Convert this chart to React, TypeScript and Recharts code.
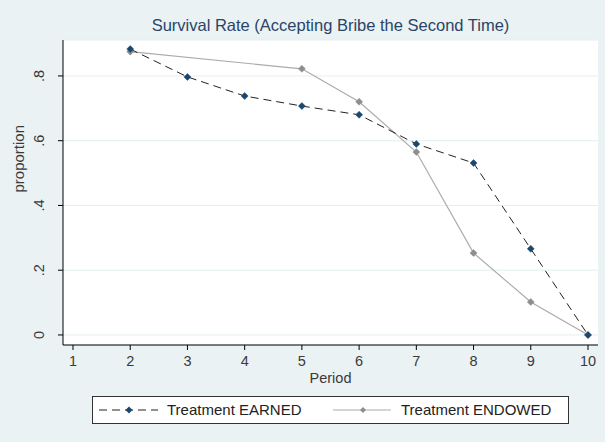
import React from 'react';
import { LineChart, Line, XAxis, YAxis, CartesianGrid } from 'recharts';

const periods = [1, 2, 3, 4, 5, 6, 7, 8, 9, 10];
const earned = [null, 0.883, 0.797, 0.738, 0.707, 0.68, 0.59, 0.531, 0.266, 0.0];
const endowed = [null, 0.875, null, null, 0.822, 0.72, 0.565, 0.253, 0.102, 0.0];
const yTicks = [0, 0.2, 0.4, 0.6, 0.8];

const data = periods.map((p, i) => ({ period: p, earned: earned[i], endowed: endowed[i] }));

const FONT = '"Liberation Sans", Arial, sans-serif';
const BG = '#eaf2f3';
const TXT = '#3a3a3a';

const fmtY = (v: number) => (v === 0 ? '0' : String(v).replace(/^0/, ''));

const Diamond = (color: string, r: number) => (props: any) => {
  const { cx, cy, index } = props;
  if (cx == null || cy == null || props.value == null) return <g key={index} />;
  return (
    <polygon
      key={index}
      points={`${cx},${cy - r} ${cx + r},${cy} ${cx},${cy + r} ${cx - r},${cy}`}
      fill={color}
      stroke={color}
      strokeWidth={0.5}
    />
  );
};

const YTick = (props: any) => {
  const { x, y, payload } = props;
  const bx = x - 12;
  return (
    <text
      x={bx}
      y={y}
      transform={`rotate(-90, ${bx}, ${y})`}
      textAnchor="middle"
      fontFamily={FONT}
      fontSize={14.5}
      fill={TXT}
    >
      {fmtY(payload.value)}
    </text>
  );
};

export default function App() {
  return (
    <div style={{ position: 'absolute', left: 0, top: 0, width: 605, height: 442, background: BG }}>
      <div
        style={{
          position: 'absolute',
          left: 0,
          width: 661,
          top: 16,
          lineHeight: '19px',
          textAlign: 'center',
          fontFamily: FONT,
          fontSize: 16.5,
          color: '#2a4468',
        }}
      >
        Survival Rate (Accepting Bribe the Second Time)
      </div>
      <LineChart
        width={605}
        height={442}
        data={data}
        margin={{ top: 40, right: 7, left: 0, bottom: 0 }}
        style={{ position: 'absolute', left: 0, top: 0 }}
      >
        <CartesianGrid vertical={false} stroke="#e4eef0" fill="#ffffff" />
        <XAxis
          dataKey="period"
          type="number"
          domain={[0.825, 10.175]}
          ticks={periods}
          allowDataOverflow
          height={97}
          stroke="#000"
          tickSize={5}
          tickMargin={6}
          tick={{ fontFamily: FONT, fontSize: 14.5, fill: TXT }}
          label={{ value: 'Period', position: 'insideTop', offset: 28, fontFamily: FONT, fontSize: 14.5, fill: TXT }}
        />
        <YAxis
          type="number"
          domain={[-0.031, 0.911]}
          ticks={yTicks}
          allowDataOverflow
          width={63}
          stroke="#000"
          tickSize={5}
          tick={<YTick />}
          label={{ value: 'proportion', angle: -90, position: 'insideLeft', offset: 19, fontFamily: FONT, fontSize: 15, fill: TXT }}
        />
        <Line
          dataKey="endowed"
          stroke="#ababab"
          strokeWidth={1.2}
          connectNulls
          dot={Diamond('#8e8e8e', 3.5)}
          isAnimationActive={false}
        />
        <Line
          dataKey="earned"
          stroke="#222"
          strokeWidth={1}
          strokeDasharray="8 5"
          connectNulls
          dot={Diamond('#1a476f', 3.5)}
          isAnimationActive={false}
        />
      </LineChart>
      <div
        style={{
          position: 'absolute',
          left: 92,
          top: 396,
          width: 475,
          height: 26,
          background: '#fff',
          border: '1px solid #333',
          fontFamily: FONT,
          fontSize: 15,
          color: '#222',
        }}
      >
        <svg width={475} height={26} style={{ position: 'absolute', left: 0, top: 0 }}>
          <line x1={6} y1={13} x2={65} y2={13} stroke="#222" strokeDasharray="8 5" />
          <polygon points="36,9.5 39.5,13 36,16.5 32.5,13" fill="#1a476f" />
          <line x1={240} y1={13} x2={298} y2={13} stroke="#ababab" strokeWidth={1.2} />
          <polygon points="270,10 273,13 270,16 267,13" fill="#8e8e8e" />
        </svg>
        <span style={{ position: 'absolute', left: 74, top: 4 }}>Treatment EARNED</span>
        <span style={{ position: 'absolute', left: 308, top: 4 }}>Treatment ENDOWED</span>
      </div>
    </div>
  );
}
